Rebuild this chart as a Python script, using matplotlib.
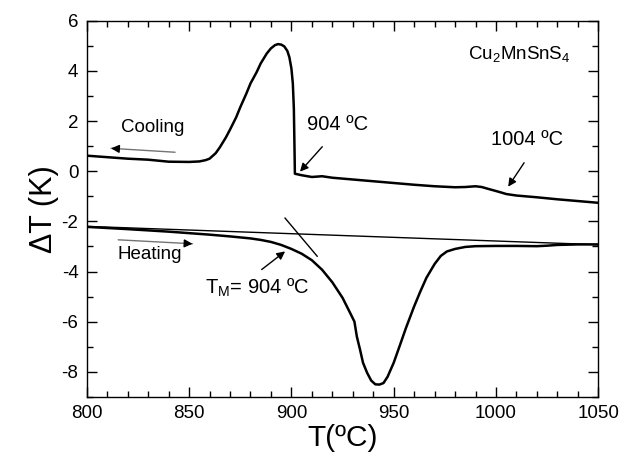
import matplotlib.pyplot as plt
from matplotlib.ticker import MultipleLocator

plt.rcParams["font.family"] = ["Liberation Sans", "DejaVu Sans"]
plt.rcParams["axes.unicode_minus"] = False

# cooling run (upper curve)
cool_T = [800, 810, 820, 830, 840, 850, 855, 858, 860, 863, 865, 868, 870, 873,
          875, 878, 880, 883, 885, 888, 890, 892, 893.5, 895, 896.5, 898, 899,
          900, 900.7, 901.2, 901.5, 901.7, 905, 910, 915, 920, 930, 940, 950,
          960, 970, 980, 985, 990, 993, 996, 1000, 1003, 1005, 1010, 1020,
          1030, 1040, 1050]
cool_dT = [0.62, 0.56, 0.5, 0.46, 0.38, 0.37, 0.39, 0.44, 0.5, 0.72, 0.95, 1.35,
           1.66, 2.15, 2.55, 3.1, 3.5, 3.95, 4.3, 4.7, 4.9, 5.03, 5.07, 5.05,
           4.98, 4.8, 4.55, 4.1, 3.5, 2.5, 1.0, -0.1, -0.16, -0.23, -0.2,
           -0.26, -0.33, -0.4, -0.47, -0.54, -0.6, -0.64, -0.63, -0.6, -0.63,
           -0.7, -0.79, -0.86, -0.91, -0.97, -1.04, -1.12, -1.19, -1.26]

# heating run (lower curve)
heat_T = [800, 820, 840, 860, 870, 880, 885, 890, 895, 900, 905, 910, 915, 920,
          925, 929, 930.8, 932, 933.5, 935, 937, 939, 941, 943, 945, 947, 950,
          953, 956, 960, 963, 966, 970, 973, 976, 980, 985, 990, 1000, 1010,
          1020, 1025, 1030, 1040, 1050]
heat_dT = [-2.22, -2.31, -2.41, -2.53, -2.6, -2.68, -2.74, -2.82, -2.94, -3.1,
           -3.29, -3.55, -3.93, -4.43, -5.05, -5.7, -6.0, -6.6, -7.1, -7.64,
           -8.04, -8.35, -8.5, -8.51, -8.45, -8.2, -7.64, -6.95, -6.25, -5.39,
           -4.8, -4.25, -3.7, -3.38, -3.2, -3.1, -3.02, -2.99, -2.98, -2.98,
           -2.99, -2.97, -2.94, -2.92, -2.92]

baseline_T = [800, 1050]
baseline_dT = [-2.2, -2.93]
tangent_T = [896.9, 912.6]
tangent_dT = [-1.87, -3.39]

fig = plt.figure(figsize=(6.2, 4.62), dpi=100)
ax = fig.add_axes([0.140, 0.141, 0.825, 0.814])

ax.plot(cool_T, cool_dT, color="black", lw=1.8, solid_joinstyle="round")
ax.plot(heat_T, heat_dT, color="black", lw=1.8, solid_joinstyle="round")
ax.plot(baseline_T, baseline_dT, color="black", lw=1.0)
ax.plot(tangent_T, tangent_dT, color="black", lw=1.0)

# direction arrows: grey shaft, black head
ax.annotate("", xy=(810.5, 0.92), xytext=(844.5, 0.75),
            arrowprops=dict(arrowstyle="-", color="0.45", lw=1.0))
ax.annotate("", xy=(810.5, 0.92), xytext=(816, 0.89),
            arrowprops=dict(arrowstyle="-|>", color="black", lw=1.0,
                            mutation_scale=12))
ax.annotate("", xy=(853, -2.9), xytext=(814, -2.73),
            arrowprops=dict(arrowstyle="-", color="0.45", lw=1.0))
ax.annotate("", xy=(853, -2.9), xytext=(848, -2.88),
            arrowprops=dict(arrowstyle="-|>", color="black", lw=1.0,
                            mutation_scale=12))

pointer = dict(arrowstyle="-|>", color="black", lw=1.0, mutation_scale=12)
ax.annotate("", xy=(903.3, -0.1), xytext=(916, 1.06), arrowprops=pointer)
ax.annotate("", xy=(1005.2, -0.71), xytext=(1014.5, 0.43), arrowprops=pointer)
ax.annotate("", xy=(898, -3.13), xytext=(884.4, -3.99), arrowprops=pointer)

ax.text(832.4, 1.75, "Cooling", fontsize=13.5, ha="center", va="center")
ax.text(830.7, -3.33, "Heating", fontsize=13.5, ha="center", va="center")
ax.text(922.6, 1.85, "904 ºC", fontsize=14.5, ha="center", va="center")
ax.text(1015.4, 1.28, "1004 ºC", fontsize=14.5, ha="center", va="center")
ax.text(883.5, -4.65, r"T$_\mathregular{M}$= 904 ºC", fontsize=14.5,
        ha="center", va="center")
ax.text(1011.6, 4.64, r"Cu$_\mathregular{2}$MnSnS$_\mathregular{4}$",
        fontsize=13.5, ha="center", va="center")

ax.set_xlim(800, 1050)
ax.set_ylim(-9, 6)
ax.xaxis.set_major_locator(MultipleLocator(50))
ax.xaxis.set_minor_locator(MultipleLocator(10))
ax.yaxis.set_major_locator(MultipleLocator(2))
ax.yaxis.set_minor_locator(MultipleLocator(1))
ax.tick_params(which="both", direction="in", top=True, right=True,
               labelsize=13.5, width=1.0)
ax.tick_params(which="major", length=7, pad=6)
ax.tick_params(which="minor", length=4)
for s in ax.spines.values():
    s.set_linewidth(1.0)

ax.set_xlabel("T(ºC)", fontsize=21.5, labelpad=1)
ax.set_ylabel("ΔT (K)", fontsize=22, labelpad=2)

fig.savefig("out.png", dpi=100)
